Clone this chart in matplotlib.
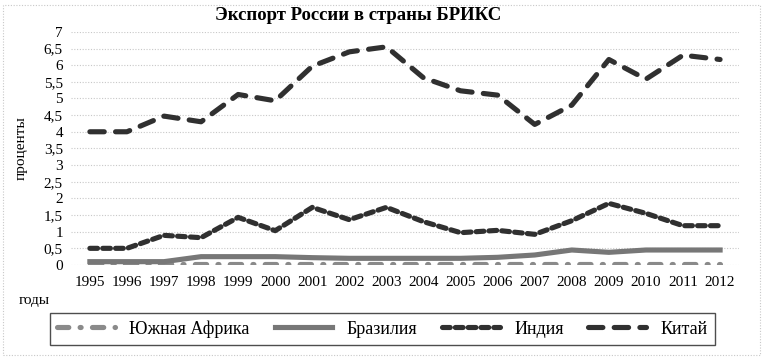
import matplotlib.pyplot as plt
from matplotlib.patches import Rectangle

plt.rcParams['font.family'] = ['Liberation Serif', 'DejaVu Serif']

years = list(range(1995, 2013))
south_africa = [0.03] * 18
brazil = [0.1, 0.1, 0.1, 0.25, 0.25, 0.25, 0.22, 0.2, 0.2, 0.2, 0.2, 0.23, 0.3, 0.45, 0.38, 0.45, 0.45, 0.45]
india = [0.5, 0.5, 0.89, 0.82, 1.43, 1.03, 1.73, 1.36, 1.73, 1.3, 0.97, 1.04, 0.92, 1.33, 1.85, 1.55, 1.18, 1.18]
china = [4.0, 4.0, 4.47, 4.3, 5.12, 4.93, 5.97, 6.4, 6.55, 5.62, 5.23, 5.1, 4.22, 4.8, 6.17, 5.58, 6.3, 6.17]
yticks = [0, 0.5, 1, 1.5, 2, 2.5, 3, 3.5, 4, 4.5, 5, 5.5, 6, 6.5, 7]
ylabels = ['0', '0,5', '1', '1,5', '2', '2,5', '3', '3,5', '4', '4,5', '5', '5,5', '6', '6,5', '7']

fig = plt.figure(figsize=(7.67, 3.62), dpi=100)
ax = fig.add_axes([0.093, 0.268, 0.87, 0.644])

ax.plot(years, south_africa, color='#8a8a8a', lw=3.7, dashes=(2.2, 2.2, 0.2, 2.2),
        dash_capstyle='round', label='Южная Африка')
ax.plot(years, brazil, color='#777777', lw=3.7, label='Бразилия')
ax.plot(years, india, color='#303030', lw=3.7, dashes=(1.5, 1.0),
        dash_capstyle='round', label='Индия')
ax.plot(years, china, color='#303030', lw=3.7, dashes=(2.8, 2.2),
        dash_capstyle='round', label='Китай')

ax.set_xlim(1994.5, 2012.5)
ax.set_ylim(0, 7)
ax.set_xticks(years)
ax.set_xticklabels([str(y) for y in years], fontsize=11)
ax.set_yticks(yticks)
ax.set_yticklabels(ylabels, fontsize=11)
ax.tick_params(length=0, pad=8)
ax.tick_params(axis='y', pad=6)
ax.grid(axis='y', color='#c8c8c8', linestyle=(0, (1, 1.5)), lw=0.8)
for s in ax.spines.values():
    s.set_visible(False)

fig.text(0.467, 0.958, 'Экспорт России в страны БРИКС', ha='center', va='center',
         fontsize=13.5, fontweight='bold')
fig.text(0.028, 0.59, 'проценты', rotation=90, ha='center', va='center', fontsize=11)
fig.text(0.045, 0.17, 'годы', ha='center', va='center', fontsize=11)

leg = fig.legend(loc='center', bbox_to_anchor=(50 / 767, 1 - 345 / 362, 665 / 767, 32 / 362),
                 mode='expand', ncol=4, fontsize=13, handlelength=3.2, frameon=True,
                 fancybox=False, borderaxespad=0)
leg.get_frame().set_edgecolor('#222222')
leg.get_frame().set_linewidth(1.0)

fig.patches.append(Rectangle((0.004, 0.02), 0.987, 0.965, transform=fig.transFigure,
                             fill=False, ec='#c8c8c8', lw=0.8, ls=(0, (1, 1.5))))

fig.savefig('out.png', dpi=100)
